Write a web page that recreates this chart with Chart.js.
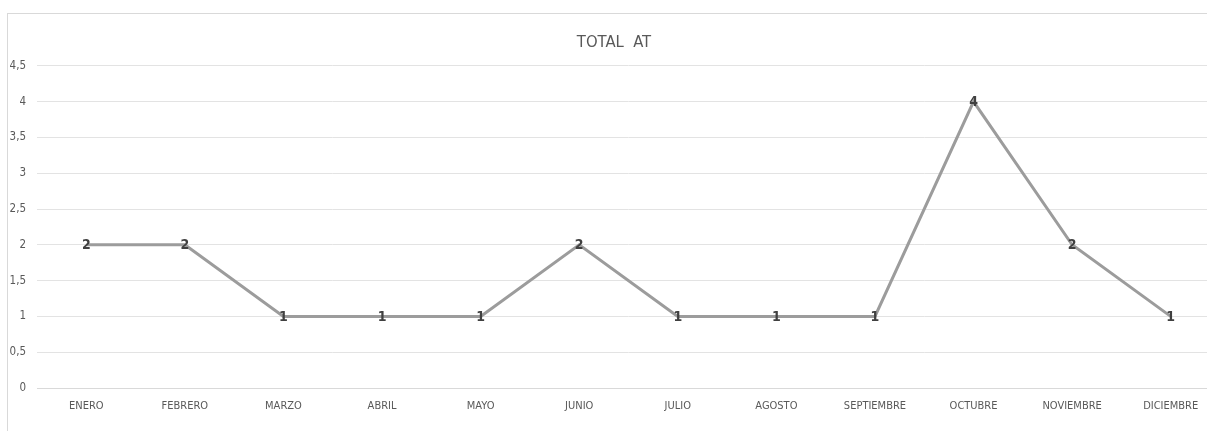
<!DOCTYPE html>
<html>
<head>
<meta charset="utf-8">
<script src="https://cdn.jsdelivr.net/npm/chart.js@4/dist/chart.umd.min.js"></script>
<style>
  html, body { margin: 0; padding: 0; background: #fff; overflow: hidden; width: 1207px; height: 431px; }
  #frame { position: absolute; left: 7px; top: 13px; width: 1400px; height: 600px; border: 1px solid #d9d9d9; box-sizing: border-box; }
  #wrap { position: absolute; left: 0; top: 0; width: 1230px; height: 431px; }
</style>
</head>
<body>
<div id="frame"></div>
<div id="wrap"><canvas id="c"></canvas></div>
<script>
// Monthly totals
const months = ['ENERO', 'FEBRERO', 'MARZO', 'ABRIL', 'MAYO', 'JUNIO', 'JULIO', 'AGOSTO', 'SEPTIEMBRE', 'OCTUBRE', 'NOVIEMBRE', 'DICIEMBRE'];
const totals = [2, 2, 1, 1, 1, 2, 1, 1, 1, 4, 2, 1];
const yTicks = [0, 0.5, 1, 1.5, 2, 2.5, 3, 3.5, 4, 4.5];
const chartTitle = 'TOTAL  AT';

const narrow = '"DejaVu Sans Condensed", "Liberation Sans", sans-serif';

// Draws each value centred on its point
const pointValues = {
  id: 'pointValues',
  afterDatasetsDraw(chart) {
    const ctx = chart.ctx;
    const meta = chart.getDatasetMeta(0);
    ctx.save();
    ctx.font = 'bold 14px "DejaVu Sans Condensed", "DejaVu Sans", sans-serif';
    ctx.fillStyle = '#404040';
    ctx.textAlign = 'center';
    ctx.textBaseline = 'middle';
    meta.data.forEach((pt, i) => {
      ctx.fillText(String(totals[i]), pt.x, pt.y + 1);
    });
    ctx.restore();
  }
};

new Chart(document.getElementById('c'), {
  type: 'line',
  data: {
    labels: months,
    datasets: [{
      data: totals,
      borderColor: '#9c9c9c',
      borderWidth: 3,
      pointRadius: 0,
      tension: 0,
      fill: false
    }]
  },
  options: {
    responsive: true,
    maintainAspectRatio: false,
    animation: false,
    layout: { padding: { left: 8, right: 10, top: 0, bottom: 0 } },
    plugins: {
      legend: { display: false },
      tooltip: { enabled: false },
      title: {
        display: true,
        text: chartTitle,
        color: '#595959',
        font: { family: narrow, size: 16.5, weight: 'normal', lineHeight: 1.2 },
        padding: { top: 33, bottom: 13 }
      }
    },
    scales: {
      x: {
        offset: true,
        grid: { display: false, drawTicks: false },
        border: { display: true, color: '#d9d9d9', width: 1 },
        ticks: {
          color: '#595959',
          font: { family: narrow, size: 11 },
          padding: 12,
          maxRotation: 0,
          autoSkip: false
        },
        afterFit(scale) { scale.height = 43; }
      },
      y: {
        min: 0,
        max: 4.5,
        afterBuildTicks(scale) { scale.ticks = yTicks.map(v => ({ value: v })); },
        grid: { color: '#e3e3e3', lineWidth: 1, drawTicks: false },
        border: { display: false },
        ticks: {
          color: '#595959',
          font: { family: narrow, size: 11.5 },
          padding: 11,
          callback: v => String(v).replace('.', ',')
        },
        afterFit(scale) { scale.width = 29; }
      }
    }
  },
  plugins: [pointValues]
});
</script>
</body>
</html>
